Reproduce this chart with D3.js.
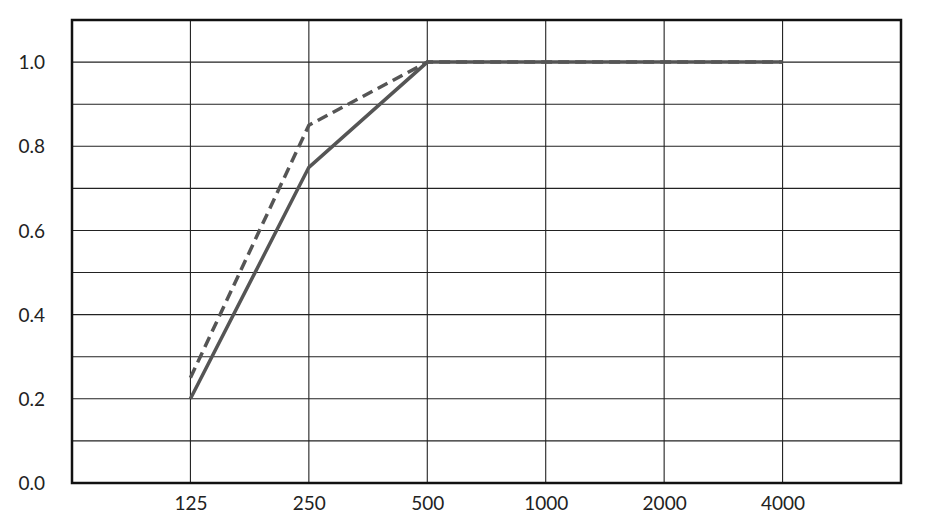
<!DOCTYPE html>
<meta charset="utf-8">
<style>
  body { margin: 0; background: #fff; }
</style>
<script src="https://d3js.org/d3.v7.min.js"></script>
<div id="chart"></div>
<script>

// frequency bands and absorption values
var freqs = ["125", "250", "500", "1000", "2000", "4000"];
var solidVals = [0.2, 0.75, 1.0, 1.0, 1.0, 1.0];
var dashedVals = [0.25, 0.85, 1.0, 1.0, 1.0, 1.0];
var yTicks = [0.0, 0.2, 0.4, 0.6, 0.8, 1.0];

var width = 940, height = 527;
var margin = {top: 20, right: 39, bottom: 44, left: 72};

var svg = d3.select("#chart").append("svg")
    .attr("width", width)
    .attr("height", height);

// extra empty slot at each end of the frequency axis
var slots = [""].concat(freqs).concat([" "]);
var x = d3.scalePoint()
    .domain(slots)
    .range([margin.left, width - margin.right]);

var y = d3.scaleLinear()
    .domain([0, 1.1])
    .range([height - margin.bottom, margin.top]);

// grid lines
svg.append("g")
  .selectAll("line")
  .data(d3.range(0, 12).map(function(i) { return i / 10; }))
  .join("line")
    .attr("x1", margin.left).attr("x2", width - margin.right)
    .attr("y1", function(d) { return y(d); })
    .attr("y2", function(d) { return y(d); })
    .attr("stroke", "#222").attr("stroke-width", 1.1);

svg.append("g")
  .selectAll("line")
  .data(slots)
  .join("line")
    .attr("x1", function(d) { return x(d); })
    .attr("x2", function(d) { return x(d); })
    .attr("y1", y(0)).attr("y2", y(1.1))
    .attr("stroke", "#222").attr("stroke-width", 1.1);

// frame
svg.append("rect")
    .attr("x", margin.left).attr("y", y(1.1))
    .attr("width", x(" ") - x(""))
    .attr("height", y(0) - y(1.1))
    .attr("fill", "none").attr("stroke", "#111").attr("stroke-width", 2.5);

// y axis labels
var yAxis = d3.axisLeft(y)
    .tickValues(yTicks)
    .tickFormat(d3.format(".1f"))
    .tickSize(0)
    .tickPadding(27);
svg.append("g")
    .attr("transform", "translate(" + margin.left + ",0)")
    .call(yAxis)
    .call(function(g) { g.select(".domain").remove(); })
    .selectAll("text").attr("dy", "0.35em");

// x axis labels
var xAxis = d3.axisBottom(x)
    .tickValues(freqs)
    .tickSize(0)
    .tickPadding(14);
svg.append("g")
    .attr("transform", "translate(0," + y(0) + ")")
    .call(xAxis)
    .call(function(g) { g.select(".domain").remove(); });

svg.selectAll(".tick text")
    .style("font-family", "Lato, sans-serif")
    .style("font-size", "19px")
    .attr("fill", "#222");

var line = d3.line()
    .x(function(d, i) { return x(freqs[i]); })
    .y(function(d) { return y(d); });

svg.append("path")
    .attr("d", line(dashedVals))
    .attr("fill", "none")
    .attr("stroke", "#555")
    .attr("stroke-width", 3.5)
    .attr("stroke-dasharray", "11,6");

svg.append("path")
    .attr("d", line(solidVals))
    .attr("fill", "none")
    .attr("stroke", "#555")
    .attr("stroke-width", 3.5);

</script>
